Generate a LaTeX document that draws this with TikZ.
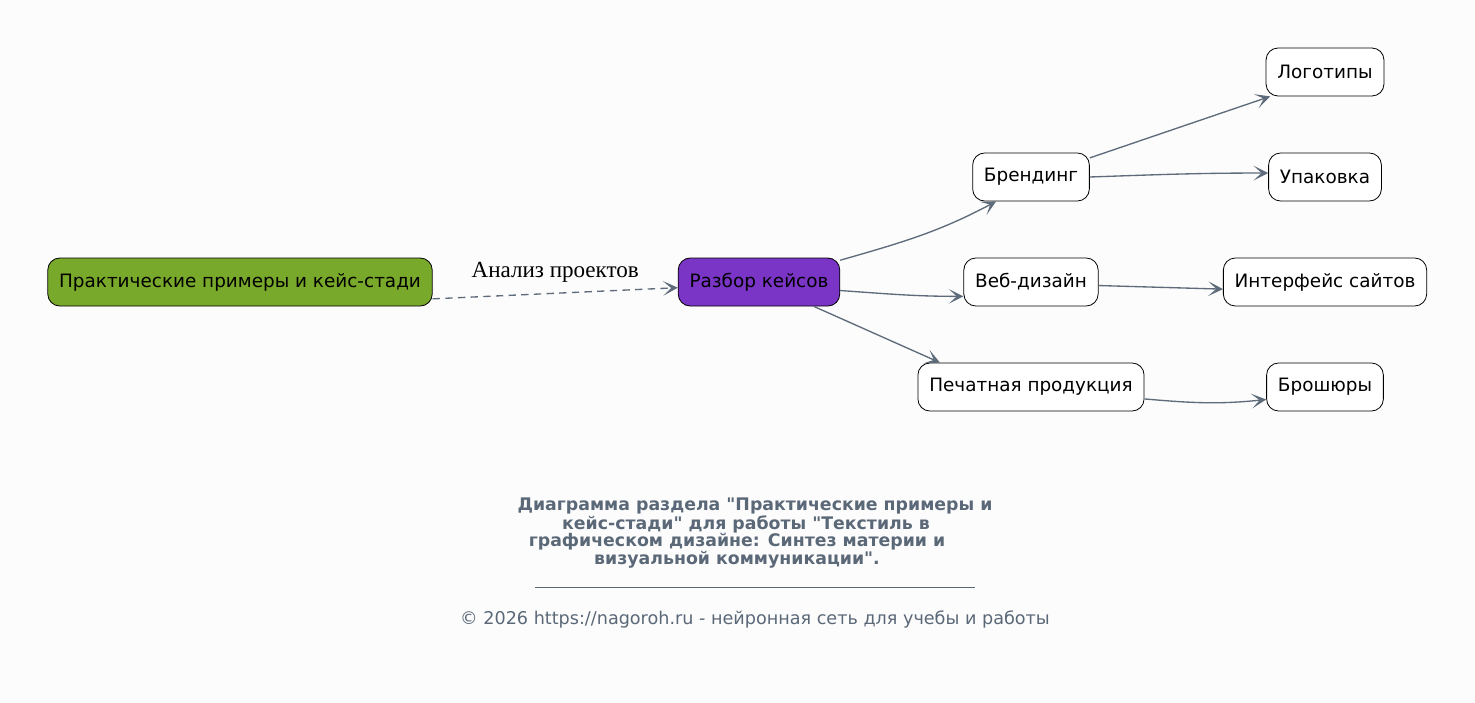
\documentclass[tikz,border=0pt]{standalone}
\usepackage{fontspec}
\setmainfont{DejaVu Sans}[Ligatures=TeXOff]
\newfontfamily\labelfont{Liberation Serif}
\usetikzlibrary{arrows.meta}
\definecolor{bgcol}{HTML}{FCFCFC}
\definecolor{edgecol}{HTML}{5E6B7A}
\definecolor{textgray}{HTML}{5B6878}
\definecolor{greenfill}{HTML}{79A92A}
\definecolor{purplefill}{HTML}{7A35C6}
\tikzset{
  box/.style={draw=black, fill=white, rounded corners=9pt, minimum height=36pt,
    inner xsep=8.5pt, line width=0.6pt, font=\fontsize{13.8}{16}\selectfont},
  link/.style={edgecol, line width=1pt,
    -{Stealth[length=11pt,width=11pt,inset=6pt]}},
}
\begin{document}
\begin{tikzpicture}[x=0.75pt,y=-0.75pt,node distance=78.75pt]
\fill[bgcol] (0,0) rectangle (1475,703);
\useasboundingbox (0,0) rectangle (1475,703);
% nodes
\node (R) [box, fill=greenfill] at (240,282) {Практические примеры и кейс-стади};
\node (K) [box, fill=purplefill, right of=R, node distance=389.25pt] {Разбор кейсов};
\node (W) [box, right of=K, node distance=204pt] {Веб-дизайн};
\node (B) [box, above of=W] {Брендинг};
\node (P) [box, below of=W] {Печатная продукция};
\node (I) [box, right of=W, node distance=220.5pt] {Интерфейс сайтов};
\node (U) [box, above of=I] {Упаковка};
\node (L) [box, above of=U] {Логотипы};
\node (S) [box, below of=I] {Брошюры};
% connectors
\path[link, dash pattern=on 5.5pt off 4pt] (R.-5) edge
    node[midway, above=4pt, text=black, font=\labelfont\fontsize{17.3}{19}\selectfont] {Анализ проектов} (K.184);
\path[link] (K.15) edge[out=16, in=-152] (B.215)
    (K.-6) edge[out=-4, in=180] (W.192)
    (K.-24) edge (P.165)
    (B.18) edge (L.204)
    (B.east) edge[out=2, in=180] (U.176)
    (W.-3) edge (I.184)
    (P.-6) edge[out=-5, in=186] (S.192);
% caption
\node (T) [align=center, text=textgray, font=\bfseries\fontsize{13}{13}\selectfont] at (755,533)
  {Диаграмма раздела "Практические примеры и\\
   кейс-стади" для работы "Текстиль в\hbox to 13.5pt{}\\
   графическом дизайне: Синтез материи и\hbox to 27pt{}\\
   визуальной коммуникации".\hbox to 27pt{}};
\coordinate (H1) at (535,587);
\coordinate (H2) at (975,587);
\draw[textgray, line width=0.4pt] (H1) -- (H2);
\node (F) [text=textgray, font=\fontsize{13.2}{15}\selectfont] at (755,619)
  {© 2026 https://nagoroh.ru - нейронная сеть для учебы и работы};
\end{tikzpicture}
\end{document}
